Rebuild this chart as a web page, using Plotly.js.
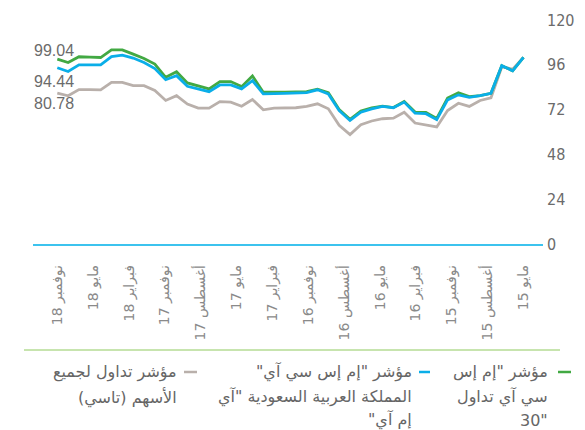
<!DOCTYPE html>
<html><head><meta charset="utf-8">
<script src="https://cdn.plot.ly/plotly-3.0.1.min.js"></script>
<style>html,body{margin:0;padding:0;background:#fff}#chart{width:585px;height:430px}</style>
</head><body><div id="chart"></div>
<script>
// chronological order: May 2015 (index 0) -> Nov 2018 (last)
const tickLabels = ["مايو 15","أغسطس 15","نوفمبر 15","فبراير 16","مايو 16","أغسطس 16","نوفمبر 16","فبراير 17","مايو 17","أغسطس 17","نوفمبر 17","فبراير 18","مايو 18","نوفمبر 18"];
const msciTadawul30 = [100, 92.8, 95.5, 80.7, 79.5, 79.0, 81.0, 78.2, 67.3, 70.5, 70.7, 76.3, 73.1, 73.9, 72.9, 71.3, 66.8, 72.1, 81.1, 82.9, 81.6, 81.3, 81.3, 81.3, 81.3, 90.0, 84.3, 87.0, 87.0, 83.1, 84.7, 86.3, 92.3, 89.3, 96.4, 99.4, 101.7, 104.0, 104.0, 99.9, 100.1, 100.3, 97.2, 99.04];
const msciSaudiIMI = [100, 92.8, 95.5, 80.7, 79.5, 78.6, 79.9, 77.2, 66.6, 69.8, 70.1, 76.0, 73.0, 73.7, 72.4, 70.6, 66.2, 71.5, 80.4, 82.6, 81.1, 80.7, 80.7, 80.6, 80.4, 87.5, 83.1, 85.2, 85.2, 81.6, 83.1, 84.5, 90.2, 88.0, 94.0, 97.2, 99.6, 101.2, 100.4, 96.0, 96.0, 96.0, 92.4, 94.44];
const tasi = [100, 93.7, 94.9, 78.3, 76.9, 73.7, 75.4, 71.5, 62.7, 63.6, 64.8, 70.6, 67.4, 67.1, 65.9, 63.9, 58.6, 63.6, 72.4, 75.1, 73.7, 73.0, 73.0, 72.8, 71.9, 77.4, 73.8, 76.0, 76.3, 72.8, 72.8, 75.0, 79.5, 76.9, 82.2, 84.8, 84.8, 86.6, 86.6, 82.6, 82.7, 82.7, 79.4, 80.78];
const yTicks = [0, 24, 48, 72, 96, 120];
const legendTadawul30 = ["مؤشر \"إم إس", "سي آي تداول", "30\""];
const legendSaudiIMI = ["مؤشر \"إم إس سي آي\"", "المملكة العربية السعودية \"آي", "إم آي\""];
const legendTasi = ["مؤشر تداول لجميع", "الأسهم (تاسي)"];

const N = tasi.length;
const idx = tasi.map((_, i) => i);
const tickVals = tickLabels.map((_, j) => j * (N - 1) / (tickLabels.length - 1));

const GREEN = '#42a943', BLUE = '#0aaee8', GREY = '#b9b0ab';

// plot area in pixels
const PL = 33, PR = 543, PT = 20, PB = 244;
const px2x = p => (p - PL) / (PR - PL);
const py2y = p => (PB - p) / (PB - PT);

const traces = [
  {x: idx, y: tasi, mode: 'lines', line: {color: GREY, width: 2.8}, hoverinfo: 'skip'},
  {x: idx, y: msciTadawul30, mode: 'lines', line: {color: GREEN, width: 2.8}, hoverinfo: 'skip'},
  {x: idx, y: msciSaudiIMI, mode: 'lines', line: {color: BLUE, width: 2.8}, hoverinfo: 'skip'}
];

const annotations = [];
const shapes = [];
const numFont = {family: 'Liberation Sans, Arial, sans-serif', size: 16, color: '#6b6b6b'};
// end-value labels
[[msciTadawul30, 51], [msciSaudiIMI, 81], [tasi, 103]].forEach(([s, py]) => {
  annotations.push({xref: 'paper', yref: 'paper', x: px2x(32), y: py2y(py), xanchor: 'left', yanchor: 'middle',
    text: s[N - 1].toFixed(2), showarrow: false, font: numFont});
});

// custom RTL legend
const legFont = {family: 'DejaVu Sans, sans-serif', size: 16, color: '#666'};
const lineYs = [372, 397, 420];
[[legendTadawul30, GREEN, 550, 558, 571], [legendSaudiIMI, BLUE, 414, 419, 430], [legendTasi, GREY, 179, 184, 197]].forEach(([lines, col, right, d0, d1]) => {
  lines.forEach((t, k) => {
    annotations.push({xref: 'paper', yref: 'paper', x: px2x(right), y: py2y(lineYs[k]), xanchor: 'right', yanchor: 'middle',
      text: t, showarrow: false, font: legFont});
  });
  shapes.push({type: 'line', xref: 'paper', yref: 'paper', x0: px2x(d0), x1: px2x(d1), y0: py2y(372), y1: py2y(372),
    line: {color: col, width: 2.5}});
});
// separator line above legend
shapes.push({type: 'line', xref: 'paper', yref: 'paper', x0: px2x(24), x1: px2x(560), y0: py2y(350), y1: py2y(350),
  line: {color: '#8fca5e', width: 1}});

const layout = {
  width: 585, height: 430,
  margin: {l: PL, r: 585 - PR, t: PT, b: 430 - PB},
  paper_bgcolor: '#fff', plot_bgcolor: '#fff',
  showlegend: false,
  xaxis: {
    type: 'linear', range: [N - 1 + 2.24, -1.8],
    tickvals: tickVals, ticktext: tickLabels, tickangle: -90,
    tickfont: {family: 'DejaVu Sans, sans-serif', size: 14, color: '#8a8a8a'},
    showgrid: false, zeroline: false, showline: true, linecolor: '#3cc3ee', linewidth: 1.5,
    ticks: '', ticklabelstandoff: 14, fixedrange: true
  },
  yaxis: {
    side: 'right', range: [0, 120], tickvals: yTicks,
    tickfont: {family: 'Liberation Sans Narrow, DejaVu Sans Condensed, sans-serif', size: 16, color: '#6b6b6b'},
    showgrid: false, zeroline: false, showline: false, ticks: '', ticklabelstandoff: 3, fixedrange: true
  },
  annotations: annotations,
  shapes: shapes
};

Plotly.newPlot('chart', traces, layout, {staticPlot: true, displayModeBar: false}).then(gd => {
  // right-to-left base direction for the Arabic legend texts (anchor is middle, so position is unchanged)
  gd.querySelectorAll('.annotation-text').forEach(el => {
    if (/[\u0600-\u06FF]/.test(el.textContent)) {
      el.setAttribute('direction', 'rtl');
      el.style.direction = 'rtl';
      el.style.unicodeBidi = 'embed';
    }
  });
});
</script>
</body></html>
